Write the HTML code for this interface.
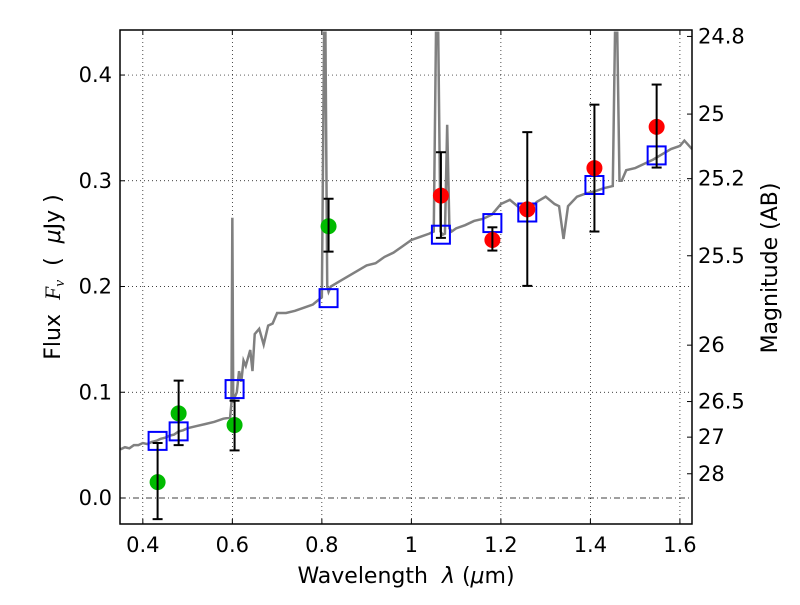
<!DOCTYPE html>
<html><head><meta charset="utf-8"><style>
body{margin:0;background:#fff}
svg{font-family:"DejaVu Sans","Liberation Sans",sans-serif}
</style></head><body>
<svg id="c" width="800" height="600" viewBox="0 0 800 600"></svg>
<script>
const specWave=[0.35,0.36,0.37,0.38,0.39,0.40,0.41,0.42,0.43,0.44,0.45,0.46,0.47,0.48,0.49,0.50,0.52,0.54,0.56,0.58,0.595,0.598,0.600,0.602,0.605,0.61,0.615,0.62,0.625,0.63,0.64,0.645,0.65,0.66,0.67,0.68,0.69,0.70,0.72,0.74,0.76,0.78,0.80,0.805,0.808,0.812,0.815,0.82,0.84,0.86,0.88,0.90,0.92,0.94,0.96,0.98,1.00,1.02,1.04,1.05,1.055,1.06,1.065,1.07,1.075,1.08,1.085,1.09,1.10,1.12,1.14,1.16,1.18,1.20,1.22,1.24,1.26,1.28,1.30,1.32,1.33,1.34,1.35,1.37,1.39,1.41,1.43,1.45,1.455,1.46,1.465,1.47,1.48,1.50,1.52,1.54,1.56,1.58,1.60,1.61,1.627];
const specFlux=[0.046,0.048,0.047,0.050,0.050,0.052,0.051,0.053,0.054,0.056,0.057,0.059,0.060,0.063,0.064,0.066,0.068,0.070,0.072,0.075,0.076,0.09,0.265,0.09,0.095,0.10,0.12,0.11,0.13,0.125,0.14,0.12,0.155,0.16,0.145,0.163,0.165,0.175,0.175,0.177,0.18,0.183,0.19,0.44,0.44,0.20,0.195,0.20,0.205,0.21,0.215,0.22,0.222,0.228,0.232,0.238,0.244,0.247,0.250,0.252,0.44,0.44,0.252,0.249,0.25,0.353,0.255,0.252,0.255,0.258,0.262,0.264,0.268,0.278,0.282,0.275,0.270,0.280,0.285,0.278,0.276,0.245,0.276,0.285,0.288,0.290,0.293,0.295,0.44,0.44,0.30,0.30,0.310,0.312,0.316,0.320,0.325,0.330,0.333,0.338,0.330];
const obsWave=[0.433,0.48,0.605,0.815,1.066,1.181,1.259,1.409,1.548];
const obsFlux=[0.015,0.080,0.069,0.257,0.286,0.244,0.273,0.312,0.351];
const errHi=[0.052,0.111,0.092,0.283,0.327,0.256,0.346,0.372,0.391];
const errLo=[-0.020,0.050,0.045,0.233,0.246,0.234,0.2006,0.252,0.3125];
const obsColor=['#00bb00','#00bb00','#00bb00','#00bb00','#ff0000','#ff0000','#ff0000','#ff0000','#ff0000'];
const modelFlux=[0.054,0.063,0.103,0.189,0.249,0.260,0.270,0.296,0.324];
const xTicks=[0.4,0.6,0.8,1.0,1.2,1.4,1.6];
const xTickLabels=['0.4','0.6','0.8','1','1.2','1.4','1.6'];
const yTicks=[0.0,0.1,0.2,0.3,0.4];
const yTickLabels=['0.0','0.1','0.2','0.3','0.4'];
const magTicks=[24.8,25,25.2,25.5,26,26.5,27,28];

const L=120,R=692,T=30,B=524,x0=0.349,x1=1.627,y0=-0.0246,y1=0.4426;
const X=v=>L+(v-x0)/(x1-x0)*(R-L);
const Y=v=>B-(v-y0)/(y1-y0)*(B-T);
const NS='http://www.w3.org/2000/svg';
const svg=document.getElementById('c');
function mk(tag,attrs,parent){const e=document.createElementNS(NS,tag);for(const k in attrs)e.setAttribute(k,attrs[k]);(parent||svg).appendChild(e);return e;}
const clip=mk('clipPath',{id:'pc'});mk('rect',{x:L,y:T,width:R-L,height:B-T},clip);
const grid=mk('g',{});


xTicks.forEach((v,i)=>{
  mk('line',{x1:X(v),x2:X(v),y1:T,y2:B,stroke:'#000','stroke-width':0.7,'stroke-dasharray':'1,3'},grid);
  mk('line',{x1:X(v),x2:X(v),y1:B,y2:B-5,stroke:'#000'});mk('line',{x1:X(v),x2:X(v),y1:T,y2:T+5,stroke:'#000'});
  const t=mk('text',{x:X(v),y:B+28,'text-anchor':'middle','font-size':21});t.textContent=xTickLabels[i];
  
  
});
yTicks.forEach((v,i)=>{
  mk('line',{x1:L,x2:R,y1:Y(v),y2:Y(v),stroke:'#000','stroke-width':0.7,'stroke-dasharray':v===0?'6,3,1,3':'1,3'},grid);
  mk('line',{x1:L,x2:L+5,y1:Y(v),y2:Y(v),stroke:'#000'});
  const t=mk('text',{x:L-8,y:Y(v)+7,'text-anchor':'end','font-size':21});t.textContent=yTickLabels[i];
  
  
});
magTicks.forEach(m=>{
  const f=Math.pow(10,(23.9-m)/2.5);const y=Y(f);
  mk('line',{x1:R,x2:R-5,y1:y,y2:y,stroke:'#000'});
  const t=mk('text',{x:R+6,y:y+7,'font-size':21});t.textContent=String(m);
  
  
});
const pg=mk('g',{'clip-path':'url(#pc)'});
const sp=mk('polyline',{points:specWave.map((w,i)=>X(w)+','+Y(specFlux[i])).join(' '),fill:'none',stroke:'#808080','stroke-width':2.5},pg);


obsWave.forEach((w,i)=>{
  const g=mk('g',{},pg);
  
  
  const x=X(w);
  mk('rect',{x:x-9,y:Y(modelFlux[i])-9,width:18,height:18,fill:'none',stroke:'#0000ff','stroke-width':2},g);
  mk('circle',{cx:x,cy:Y(obsFlux[i]),r:8,fill:obsColor[i]},g);
  mk('line',{x1:x,x2:x,y1:Y(errHi[i]),y2:Y(errLo[i]),stroke:'#000','stroke-width':2},g);
  mk('line',{x1:x-5,x2:x+5,y1:Y(errHi[i]),y2:Y(errHi[i]),stroke:'#000','stroke-width':2},g);
  mk('line',{x1:x-5,x2:x+5,y1:Y(errLo[i]),y2:Y(errLo[i]),stroke:'#000','stroke-width':2},g);
});
const fr=mk('rect',{x:L,y:T,width:R-L,height:B-T,fill:'none',stroke:'#000','stroke-width':1.5});


</script>
<svg width="800" height="600" style="position:absolute;left:0;top:0">
<text x="406" y="583" text-anchor="middle" font-size="22" xml:space="preserve" font-family="DejaVu Sans,sans-serif">Wavelength  <tspan font-style="italic">λ</tspan> (<tspan font-style="italic">μ</tspan>m)</text>
<text transform="translate(60,277) rotate(-90)" text-anchor="middle" font-size="22" xml:space="preserve" font-family="DejaVu Sans,sans-serif">Flux  <tspan font-style="italic" font-family="Liberation Serif,serif">F</tspan><tspan font-style="italic" font-size="15" dy="4" font-family="Liberation Serif,serif">ν</tspan><tspan dy="-4">  (  </tspan><tspan font-style="italic">μ</tspan>Jy )</text>
<text transform="translate(777,268) rotate(-90)" text-anchor="middle" font-size="22" font-family="DejaVu Sans,sans-serif">Magnitude (AB)</text>
</svg>
</body></html>
